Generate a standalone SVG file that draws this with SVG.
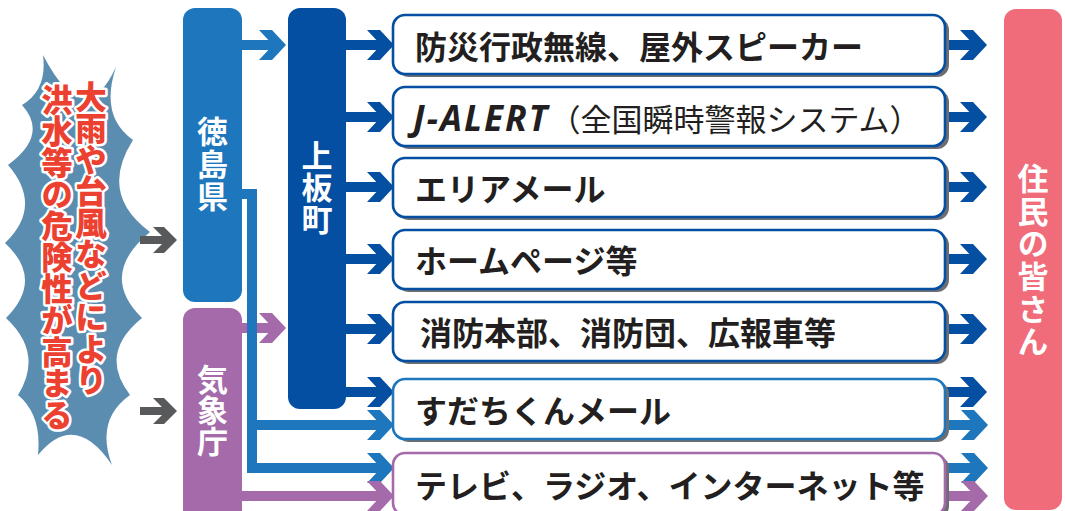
<svg xmlns="http://www.w3.org/2000/svg" xmlns:xlink="http://www.w3.org/1999/xlink" width="1065" height="511" viewBox="0 0 1065 511">
<style>
.item{fill:#fff;stroke-width:2.6}
.shadow{fill:#6d6e71}
.lbl{font-family:"Noto Sans CJK JP","Noto Sans",sans-serif;font-weight:bold;font-size:32px;fill:#231f20;dominant-baseline:central}
.vt{font-family:"Noto Sans CJK JP",sans-serif;font-weight:bold;font-size:31px;fill:#fff;writing-mode:vertical-rl}
.red{font-family:"Noto Sans CJK JP",sans-serif;font-weight:900;font-size:31.5px;fill:#ec4130;stroke:#fff;stroke-width:5;stroke-linejoin:round;paint-order:stroke;writing-mode:vertical-rl}
.lb{stroke:#1e77bd}.db{stroke:#054fa2}.pu{stroke:#a56aaa}.gy{stroke:#58595b}
.flb{fill:#1e77bd}.fdb{fill:#054fa2}.fpu{fill:#a56aaa}.fgy{fill:#58595b}
.shaft{fill:none;stroke-width:10}
</style>
<defs>
<path id="chev" d="M-27,-15 L-14,-15 L0,0 L-14,15 L-27,15 L-13,0 Z"/>
<path id="chevs" d="M-24,-13 L-13,-13 L0,0 L-13,13 L-24,13 L-11,0 Z"/>
</defs>

<g id="warning">
<path d="M43,55 Q84.5,135 116,67 Q99.5,116.5 133,140 Q98.5,194 150,232 Q98,275 142,318 Q98,353.5 130,395 Q95,420 112,465 Q75,410 38,455 Q42,415 18,395 Q44,353.5 6,318 Q44.5,279.5 5,243 Q43.5,206 8,165 Q49,135 22,105 Q47.5,90 43,55 Z" fill="#5a8db0"/>
<text class="red" x="91" y="81">大雨や台風などにより</text>
<text class="red" x="57" y="84">洪水等の危険性が高まる</text>
</g>

<g id="tokushima">
<rect x="183" y="8" width="59" height="294" rx="12" fill="#1e77bd"/>
<text class="vt" x="212.5" y="116" font-size="32" letter-spacing="1.5">徳島県</text>
</g>

<g id="jma">
<rect x="183" y="308" width="59" height="215" rx="12" fill="#a56aaa"/>
<text class="vt" x="212.5" y="364" font-size="32">気象庁</text>
</g>

<g id="kamiita">
<rect x="288" y="8" width="58" height="401" rx="12" fill="#054fa2"/>
<text class="vt" x="317" y="140" font-size="32" letter-spacing="1">上板町</text>
</g>

<g id="residents">
<rect x="1004" y="9" width="58" height="501" rx="12" fill="#f06c7b"/>
<text class="vt" x="1033" y="163" font-size="30" letter-spacing="1.6">住民の皆さん</text>
</g>

<g id="connectors">
<line x1="140" y1="240" x2="166" y2="240" class="gy" stroke-width="8"/>
<use xlink:href="#chevs" x="177" y="240" class="fgy"/>
<line x1="140" y1="411" x2="166" y2="411" class="gy" stroke-width="8"/>
<use xlink:href="#chevs" x="177" y="411" class="fgy"/>
<line x1="242" y1="45" x2="276" y2="45" class="shaft lb"/>
<use xlink:href="#chev" x="286" y="45" class="flb"/>
<line x1="242" y1="328" x2="276" y2="328" class="shaft pu"/>
<use xlink:href="#chev" x="286" y="328" class="fpu"/>
<g class="shaft db">
<line x1="346" y1="45" x2="382" y2="45"/>
<line x1="346" y1="117" x2="382" y2="117"/>
<line x1="346" y1="187" x2="382" y2="187"/>
<line x1="346" y1="259" x2="382" y2="259"/>
<line x1="346" y1="329" x2="382" y2="329"/>
<line x1="346" y1="392" x2="382" y2="392"/>
</g>
<g class="fdb">
<use xlink:href="#chev" x="394" y="45"/>
<use xlink:href="#chev" x="394" y="117"/>
<use xlink:href="#chev" x="394" y="187"/>
<use xlink:href="#chev" x="394" y="259"/>
<use xlink:href="#chev" x="394" y="329"/>
<use xlink:href="#chev" x="394" y="392"/>
</g>
<path d="M242,194 H252 V468 H382 M252,425 H382" class="shaft lb"/>
<g class="flb">
<use xlink:href="#chev" x="394" y="425"/>
<use xlink:href="#chev" x="394" y="468"/>
</g>
<line x1="242" y1="496" x2="382" y2="496" class="shaft pu"/>
<use xlink:href="#chev" x="394" y="496" class="fpu"/>
<g class="shaft db">
<line x1="945" y1="45" x2="976" y2="45"/>
<line x1="945" y1="117" x2="976" y2="117"/>
<line x1="945" y1="187" x2="976" y2="187"/>
<line x1="945" y1="259" x2="976" y2="259"/>
<line x1="945" y1="329" x2="976" y2="329"/>
<line x1="945" y1="392" x2="976" y2="392"/>
</g>
<g class="fdb">
<use xlink:href="#chev" x="987" y="45"/>
<use xlink:href="#chev" x="987" y="117"/>
<use xlink:href="#chev" x="987" y="187"/>
<use xlink:href="#chev" x="987" y="259"/>
<use xlink:href="#chev" x="987" y="329"/>
<use xlink:href="#chev" x="987" y="392"/>
</g>
<g class="shaft lb">
<line x1="945" y1="425" x2="976" y2="425"/>
<line x1="945" y1="468" x2="976" y2="468"/>
</g>
<g class="flb">
<use xlink:href="#chev" x="988" y="425"/>
<use xlink:href="#chev" x="988" y="468"/>
</g>
<line x1="945" y1="496" x2="976" y2="496" class="shaft pu"/>
<use xlink:href="#chev" x="988" y="496" class="fpu"/>
</g>

<g id="item1">
<rect x="397" y="18" width="552" height="59" rx="12" class="shadow"/>
<rect x="393" y="15" width="552" height="59" rx="12" class="item db"/>
<text x="415" y="45" class="lbl">防災行政無線、屋外スピーカー</text>
</g>
<g id="item2">
<rect x="397" y="90" width="552" height="59" rx="12" class="shadow"/>
<rect x="393" y="87" width="552" height="59" rx="12" class="item db"/>
<text x="413" y="117" class="lbl"><tspan font-family="Noto Sans, sans-serif" font-style="italic" font-size="35" letter-spacing="2">J-ALERT</tspan><tspan font-weight="normal" font-size="31" letter-spacing="0">（全国瞬時警報システム）</tspan></text>
</g>
<g id="item3">
<rect x="397" y="161" width="552" height="59" rx="12" class="shadow"/>
<rect x="393" y="158" width="552" height="59" rx="12" class="item db"/>
<text x="415" y="187" class="lbl" font-size="31">エリアメール</text>
</g>
<g id="item4">
<rect x="397" y="233" width="552" height="59" rx="12" class="shadow"/>
<rect x="393" y="230" width="552" height="59" rx="12" class="item db"/>
<text x="415" y="259" class="lbl">ホームページ等</text>
</g>
<g id="item5">
<rect x="397" y="305" width="552" height="59" rx="12" class="shadow"/>
<rect x="393" y="302" width="552" height="59" rx="12" class="item db"/>
<text x="420" y="331" class="lbl">消防本部、消防団、広報車等</text>
</g>
<g id="item6">
<rect x="397" y="382" width="552" height="60" rx="12" class="shadow"/>
<rect x="393" y="379" width="552" height="60" rx="12" class="item lb"/>
<text x="415" y="409" class="lbl">すだちくんメール</text>
</g>
<g id="item7">
<rect x="397" y="456" width="552" height="62" rx="12" class="shadow"/>
<rect x="393" y="453" width="552" height="62" rx="12" class="item pu"/>
<text x="415" y="484" class="lbl">テレビ、ラジオ、インターネット等</text>
</g>
</svg>
